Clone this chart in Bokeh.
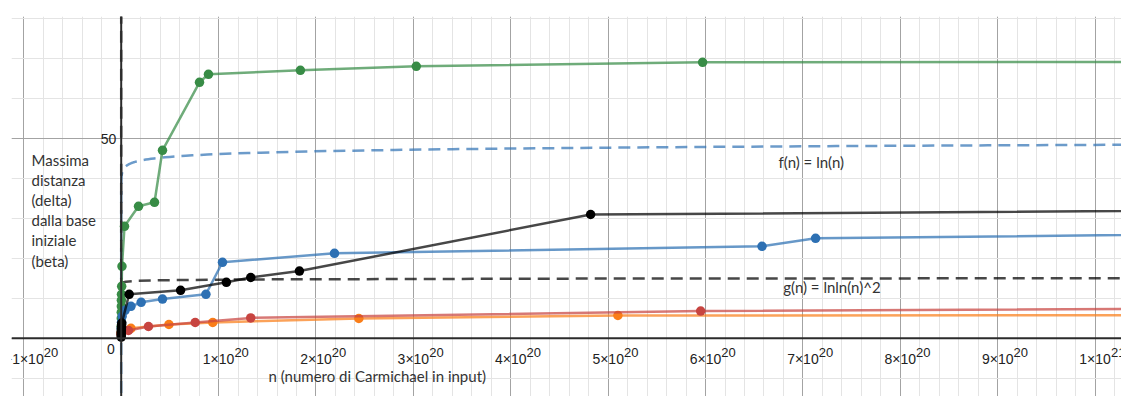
import numpy as np
from bokeh.plotting import figure
from bokeh.models import Range1d, FixedTicker, Span
from bokeh.core.properties import value
from bokeh.embed import file_html
from bokeh.resources import INLINE

E20 = 1e20

# ---------------- data (x in units of n, y = max distance) ----------------
green_x = [0.0, 0.0003, 0.0006, 0.001, 0.0015, 0.002, 0.003, 0.005, 0.008,
           0.034, 0.178, 0.342, 0.424, 0.804, 0.896, 1.84, 3.03, 5.97, 12.0]
green_y = [1.5, 3.0, 5.0, 6.5, 8.0, 9.5, 11.0, 13.0, 18.0,
           28.0, 33.0, 34.0, 47.0, 64.0, 66.0, 67.0, 68.0, 69.0, 69.1]

blue_x = [0.0, 0.001, 0.003, 0.01, 0.04, 0.10, 0.205, 0.424, 0.87,
          1.04, 2.19, 6.58, 7.13, 15.0]
blue_y = [1.0, 2.5, 4.0, 5.5, 7.0, 8.0, 9.0, 9.8, 11.0,
          19.0, 21.25, 23.0, 25.0, 27.0]

orange_x = [0.0, 0.002, 0.1, 0.49, 0.94, 2.44, 5.1, 15.0]
orange_y = [1.0, 1.5, 2.5, 3.45, 3.95, 4.95, 5.7, 5.8]

red_x = [0.0, 0.002, 0.075, 0.28, 0.76, 1.33, 5.95, 15.0]
red_y = [1.0, 1.5, 1.95, 2.95, 3.95, 5.1, 6.8, 7.87]

black_x = [0.0, 0.0003, 0.0006, 0.001, 0.002, 0.003, 0.004, 0.006, 0.082,
           0.61, 1.08, 1.33, 1.83, 4.82, 15.0]
black_y = [0.3, 0.8, 1.3, 1.8, 2.3, 2.8, 3.3, 3.8, 11.0,
           12.0, 14.0, 15.2, 16.8, 30.95, 32.55]

# reference functions drawn in the chart: f(n) = ln(n), g(n) = lnln(n)^2
f_n = np.logspace(-8, 21.2, 700)
f_y = np.log(f_n)
g_u = np.logspace(-6, np.log10(np.log(1.6e21)), 700)   # u = ln(n)
g_n = np.exp(g_u)
g_y = np.log(g_u) ** 2

tick_vals = [-1, 1, 2, 3, 4, 5, 6, 7, 8, 9, 10]
tick_base = ["−1×10", "1×10", "2×10", "3×10", "4×10", "5×10",
             "6×10", "7×10", "8×10", "9×10", "1×10"]
tick_exp = ["20", "20", "20", "20", "20", "20", "20", "20", "20", "20", "21"]

y_label_left = ["Massima", "distanza", "(delta)", "dalla base", "iniziale", "(beta)"]

# ---------------- layout (pixel geometry of the Desmos-style view) ----------------
PX_X = 97.39      # pixels per 1e20
PX_Y = 4.0        # pixels per unit
ORIGIN_PX = (120.7, 337.8)   # page pixel of (0,0)
FRAME = (11, 16, 1121, 396)  # page pixel frame box


def dx(px):
    return (px - ORIGIN_PX[0]) / PX_X * E20


def dy(py):
    return (ORIGIN_PX[1] - py) / PX_Y


W = 1121
H = 396
p = figure(width=W, height=H, output_backend="svg", toolbar_location=None,
           x_range=Range1d(dx(FRAME[0]), dx(FRAME[2])),
           y_range=Range1d(dy(FRAME[3]), dy(FRAME[1])),
           x_axis_location=None, y_axis_location=None,
           min_border_left=FRAME[0], min_border_right=0, min_border_top=FRAME[1],
           min_border_bottom=0)
p.outline_line_color = None
p.background_fill_color = "white"
p.border_fill_color = "white"

xg = p.xgrid[0]
xg.ticker = FixedTicker(ticks=[k * E20 for k in range(-2, 12)],
                        minor_ticks=[k * 0.2 * E20 for k in range(-10, 60)])
xg.grid_line_color = "#a3a3a3"
xg.grid_line_width = 1
xg.minor_grid_line_color = "#e4e4e4"
xg.minor_grid_line_width = 1

yg = p.ygrid[0]
yg.ticker = FixedTicker(ticks=[-50, 0, 50, 100],
                        minor_ticks=list(range(-50, 110, 10)))
yg.grid_line_color = "#a3a3a3"
yg.grid_line_width = 1
yg.minor_grid_line_color = "#e4e4e4"
yg.minor_grid_line_width = 1

# axes lines
p.add_layout(Span(location=0, dimension="width", line_color="#2b2b2b", line_width=2))
p.add_layout(Span(location=0, dimension="height", line_color="#2b2b2b", line_width=2))

# function curves
p.line(f_n, f_y, line_color="#2d70b3", line_alpha=0.7, line_width=2.5,
       line_dash="12 7")
p.line(g_n, g_y, line_color="#000000", line_alpha=0.72, line_width=2.5,
       line_dash="12 7")

series = [
    (green_x, green_y, "#388c46"),
    (blue_x, blue_y, "#2d70b3"),
    (orange_x, orange_y, "#fa7e19"),
    (red_x, red_y, "#c74440"),
    (black_x, black_y, "#000000"),
]
for xs, ys, col in series:
    xv = [v * E20 for v in xs]
    p.line(xv, ys, line_color=col, line_alpha=0.72, line_width=2.5,
           line_join="round")
    p.scatter(xv, ys, size=9.5, fill_color=col, line_color=col, line_width=0)

# tick labels
lab_font = value("Liberation Sans")
tx = [v * E20 for v in tick_vals]
p.text(x=tx, y=[dy(358.5)] * len(tx), text=tick_base, text_font=lab_font,
       text_font_size="14px", text_color="#222222", text_align="center",
       text_baseline="alphabetic")
sup_off = [15.8 + (4.1 if b.startswith("−") else 0.0) for b in tick_base]
p.text(x=tx, y=[dy(352.0)] * len(tx), text=tick_exp, text_font=lab_font,
       text_font_size="13px", text_color="#222222", text_align="left",
       text_baseline="alphabetic", x_offset=sup_off)

p.text(x=[0], y=[dy(348.3)], text=["0"], x_offset=-6.4, text_font=lab_font,
       text_font_size="14px", text_color="#222222", text_align="right",
       text_baseline="alphabetic")
p.text(x=[0], y=[dy(138.0)], text=["50"], x_offset=-5.0, text_font=lab_font,
       text_font_size="14px", text_color="#222222", text_align="right",
       text_baseline="alphabetic")

# annotations
ann_font = value("Lato")
ann_size = "15px"
p.text(x=[dx(31)] * len(y_label_left),
       y=[dy(159.0 + 20.2 * i) for i in range(len(y_label_left))],
       text=y_label_left, text_font=ann_font, text_font_size=ann_size,
       text_color="#333333", text_align="left", text_baseline="alphabetic")

p.text(x=[dx(778)], y=[dy(161.0)], text=["f(n) = ln(n)"], text_font=ann_font,
       text_font_size=ann_size, text_color="#333333", text_align="left",
       text_baseline="alphabetic")
p.text(x=[dx(782.7)], y=[dy(286.0)], text=["g(n) = lnln(n)^2"], text_font=ann_font,
       text_font_size=ann_size, text_color="#333333", text_align="left",
       text_baseline="alphabetic")
p.text(x=[dx(268)], y=[dy(375.0)], text=["n (numero di Carmichael in input)"],
       text_font=ann_font, text_font_size=ann_size, text_color="#333333",
       text_align="left", text_baseline="alphabetic")

open("out.html", "w").write(file_html(p, INLINE))
